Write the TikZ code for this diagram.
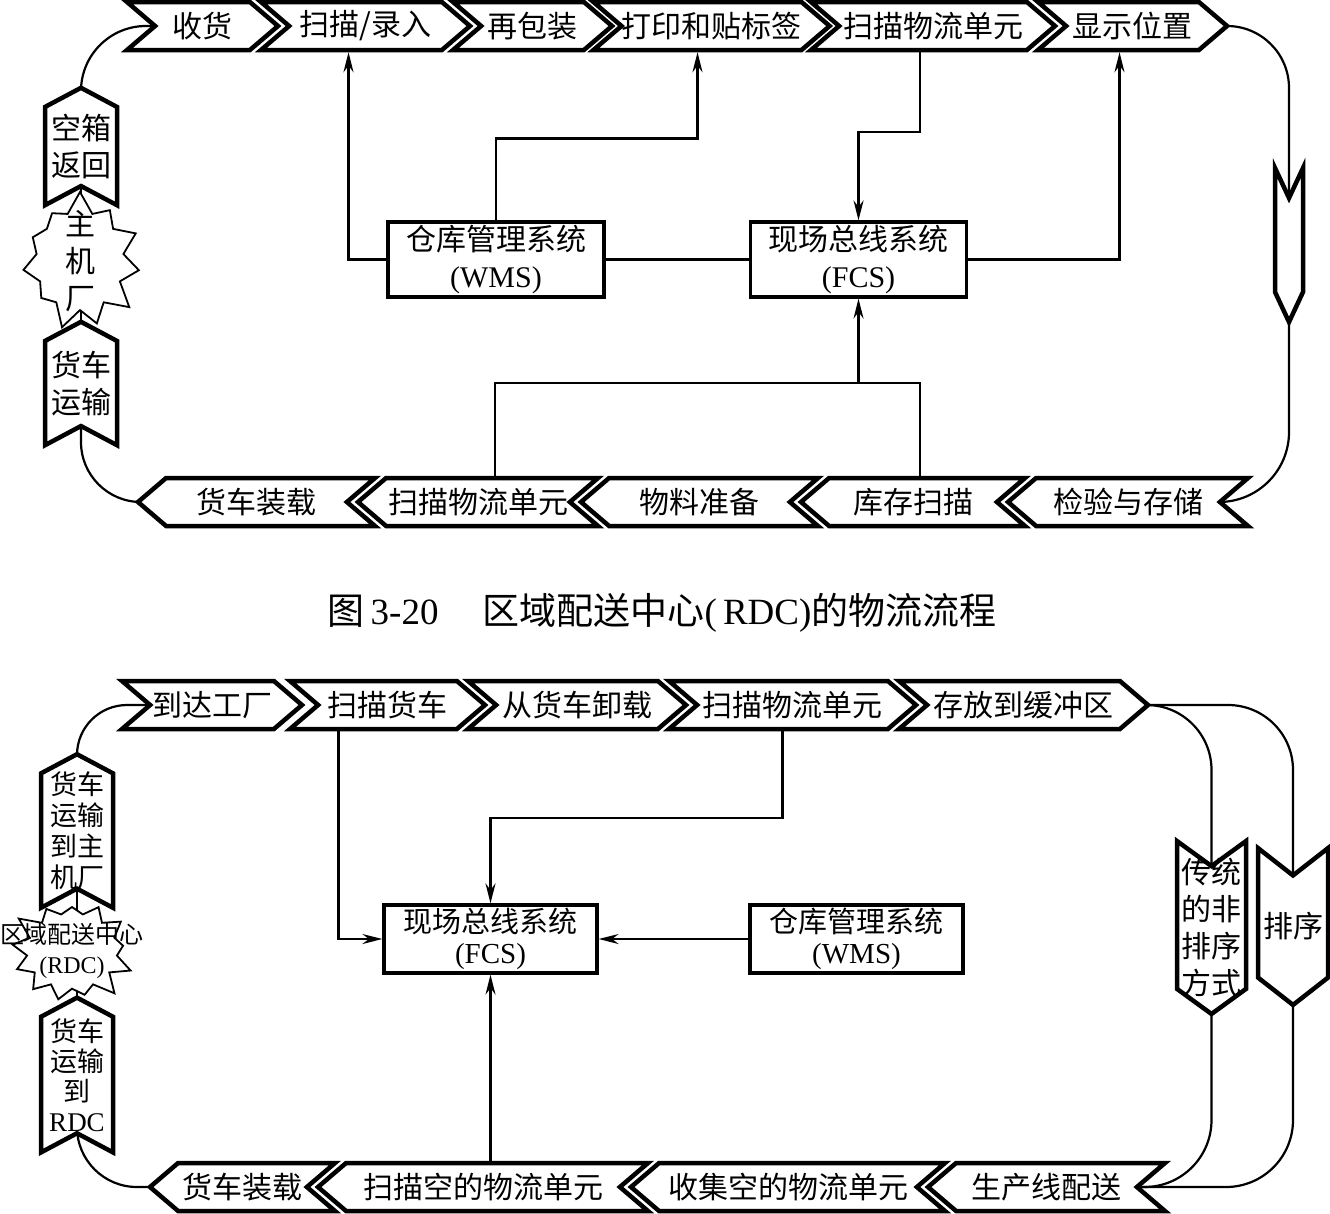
\documentclass[tikz,border=0pt]{standalone}
\usepackage{fontspec}
\setmainfont{Liberation Serif}
\newfontfamily\cjk{Noto Sans CJK SC}
\usetikzlibrary{shapes.symbols, arrows.meta, backgrounds}

\begin{document}
\begin{tikzpicture}[x=1pt, y=-1pt,
  chev/.style={signal, draw, fill=white, line width=4.5pt, inner sep=0pt, font=\cjk\fontsize{30}{37}\selectfont},
  goright/.style={chev, signal from=west, signal to=east, signal pointer angle=81, minimum height=48pt, minimum width=#1},
  goleft/.style={chev, signal from=east, signal to=west, signal pointer angle=81, minimum height=48pt, minimum width=#1},
  goup/.style={chev, signal from=south, signal to=north, signal pointer angle=124, minimum width=72pt, minimum height=#1, align=center},
  godown/.style={chev, signal from=north, signal to=south, minimum height=#1, align=center},
  burst/.style={starburst, draw, fill=white, line width=1.8pt, align=center},
  sysbox/.style={draw, line width=3.2pt, minimum width=216pt, minimum height=75pt, inner sep=0pt, align=center, font=\fontsize{30}{37}\selectfont},
  link/.style={line width=2.2pt},
  arr/.style={link, -{Stealth[length=20pt, width=10pt]}}
]
\useasboundingbox (0,0) rectangle (1330,1213);

% upper flow
\node[burst, font=\cjk\fontsize{30}{37}\selectfont, inner xsep=16pt, inner ysep=-16pt, starburst point height=22pt, starburst points=11, random starburst=7] (host) at (80,261) {主\\机\\厂};
\node[goup=111pt] (empty) at (81,146.5) {空箱\\返回};
\node[goup=117pt] (truck1) at (81,383.5) {货车\\运输};
\node[goright=151pt] (shou) at (202.5,26) {收货};
\node[goright=209pt] (scan1) at (365.5,26) {扫描/录入};
\node[goright=159pt] (repack) at (532.5,26) {再包装};
\node[goright=233pt] (label) at (711.5,26) {打印和贴标签};
\node[goright=244pt] (scanU) at (933,26) {扫描物流单元};
\node[goright=189pt] (show) at (1132.5,26) {显示位置};
\node[godown=94pt, minimum width=28pt, signal pointer angle=50] (down1) at (1289,245) {};
\node[goleft=240pt] (inspect) at (1128,502) {检验与存储};
\node[goleft=224pt] (stock) at (913,502) {库存扫描};
\node[goleft=237pt] (prep) at (699.5,502) {物料准备};
\node[goleft=240pt] (scanU2) at (478,502) {扫描物流单元};
\node[goleft=237pt] (load1) at (256.5,502) {货车装载};
\node[sysbox] (wms1) at (496,259.5) {{\cjk 仓库管理系统}\\(WMS)};
\node[sysbox] (fcs1) at (858.5,259.5) {{\cjk 现场总线系统}\\(FCS)};

\draw[arr] (wms1.west) -| ([xshift=-17pt]scan1.south);
\draw[arr] (wms1.north) -- ++(0,-82) -| ([xshift=-14pt]label.south);
\draw[link] (wms1.east) -- (fcs1.west);
\draw[arr] ([xshift=-13pt]scanU.south) -- ++(0,80) -| (fcs1.north);
\draw[arr] (fcs1.east) -| ([xshift=-13pt]show.south);
\draw[link] ([xshift=17pt]scanU2.north) -- ++(0,-93) coordinate (jn) -| ([xshift=7pt]stock.north);
\draw[arr] (jn -| fcs1.south) -- (fcs1.south);

\node[font=\fontsize{37}{40}\selectfont] (cap) at (662,613) {{\cjk 图}\,3-20\hspace{44pt}{\cjk 区域配送中心}(\,RDC){\cjk 的物流流程}};

% lower flow
\node[burst, font=\fontsize{24}{30}\selectfont, inner xsep=-40pt, inner ysep=-1pt, starburst point height=20pt, starburst points=13, random starburst=3] (rdc) at (72,951) {{\cjk 区域配送中心}\\(RDC)};
\node[goup=144pt, inner ysep=-5.5pt, font=\cjk\fontsize{27}{31}\selectfont] (truck2) at (77,831) {货车\\运输\\到主\\机厂};
\node[goup=146pt, inner ysep=-3pt, font=\cjk\fontsize{27}{30}\selectfont] (truck3) at (77,1075) {货车\\运输\\到\\\rmfamily RDC};
\node[goright=180pt] (arrive) at (212,705) {到达工厂};
\node[goright=195pt] (scanT) at (387.5,705) {扫描货车};
\node[goright=218pt] (unload) at (577,705) {从货车卸载};
\node[goright=247pt] (scanU3) at (792.5,705) {扫描物流单元};
\node[goright=249pt] (buffer) at (1023.5,705) {存放到缓冲区};
\node[godown=150pt, inner ysep=-8pt, minimum width=69pt, signal pointer angle=108] (trad) at (1211.5,927.5) {传统\\的非\\排序\\方式};
\node[godown=149pt, minimum width=70pt, signal pointer angle=104] (sort) at (1293,926.5) {排序};
\node[goleft=237pt] (line) at (1046.5,1187) {生产线配送};
\node[goleft=314pt] (collect) at (788,1187) {收集空的物流单元};
\node[goleft=330pt] (scanE) at (483,1187) {扫描空的物流单元};
\node[goleft=185pt] (load2) at (242.5,1187) {货车装载};
\node[sysbox, minimum width=213pt, minimum height=68pt, font=\fontsize{29}{31}\selectfont] (fcs2) at (490.5,939) {{\cjk 现场总线系统}\\(FCS)};
\node[sysbox, minimum width=213pt, minimum height=68pt, font=\fontsize{29}{31}\selectfont] (wms2) at (856.5,939) {{\cjk 仓库管理系统}\\(WMS)};

\draw[arr] ([xshift=-49pt]scanT.south) |- (fcs2.west);
\draw[arr] ([xshift=-10pt]scanU3.south) -- ++(0,87) -| (fcs2.north);
\draw[arr] (wms2.west) -- (fcs2.east);
\draw[arr] (fcs2.south |- scanE.north) -- (fcs2.south);

% loops behind the chevrons
\begin{scope}[on background layer]
\draw[link, rounded corners=65pt] (empty.center) |- (shou.center);
\draw[link, rounded corners=62pt] (show.center) -| (down1.center);
\draw[link, rounded corners=70pt] (down1.center) |- (inspect.center);
\draw[link, rounded corners=60pt] (load1.center) -| (truck1.center);
\draw[link] (truck1.center) -- (empty.center);
\draw[link, rounded corners=50pt] (truck2.center) |- (arrive.center);
\draw[link, rounded corners=65pt] (buffer.center) -| (trad.center);
\draw[link, rounded corners=65pt] (buffer.center) -| (sort.center);
\draw[link, rounded corners=67pt] (trad.center) |- (line.center);
\draw[link, rounded corners=67pt] (sort.center) |- (line.center);
\draw[link, rounded corners=60pt] (load2.center) -| (truck3.center);
\draw[link] (truck3.center) -- (truck2.center);
\end{scope}
\end{tikzpicture}
\end{document}
